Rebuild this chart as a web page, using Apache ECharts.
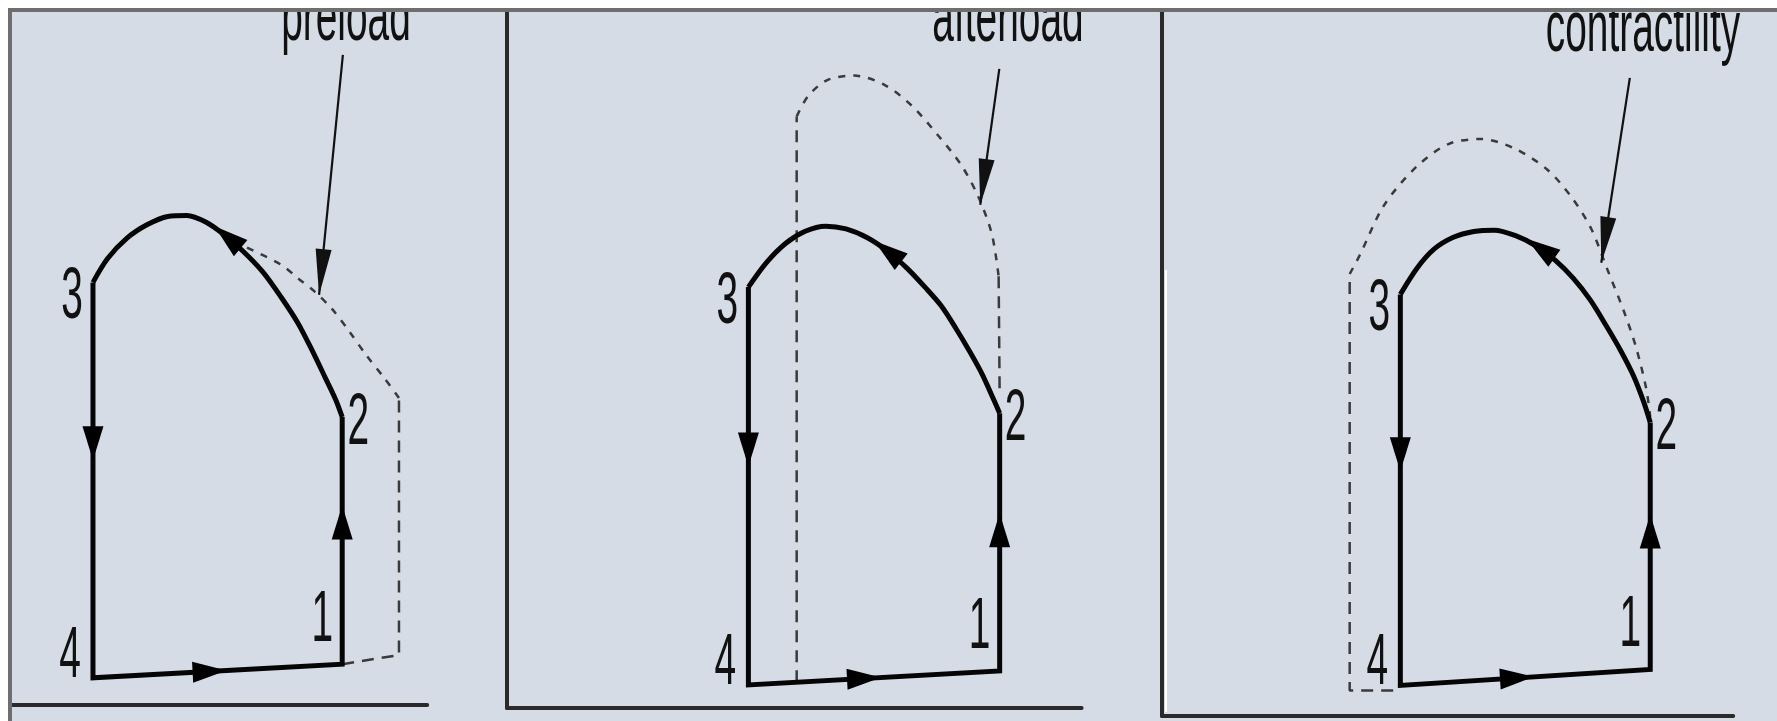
<!DOCTYPE html>
<html>
<head>
<meta charset="utf-8">
<script src="https://cdn.jsdelivr.net/npm/echarts@6/dist/echarts.min.js"></script>
<style>
html,body{margin:0;padding:0;background:#fff;}
#chart{width:1777px;height:721px;}
</style>
</head>
<body>
<div id="chart"></div>
<script>
/* pressure-volume loops: x = volume, y = pressure, same px per unit on both */
const S = 3.4;

const pointLabels = ['1', '2', '3', '4'];
const pointerLabels = ['preload', 'afterload', 'contractility'];

/* panel 1 - preload */
const preCorners = [[98, 12], [98, 84.7], [24.7, 124.3], [24.7, 8]];   // points 1,2,3,4
const preArc = [[96, 90], [93, 96.3], [89.3, 104], [85, 112.3], [80, 120], [74.7, 127.3], [69, 133.3], [63.3, 138.3], [58, 142], [52.3, 144], [46.7, 143.7], [40.7, 141.3], [34.7, 137.3], [29, 131.3]];
const preNewEdges = [[[98, 12], [114.7, 14.7], [114.7, 90.3]]];
const preNewArc = [[114.7, 90.3], [110.5, 96], [105, 103], [100, 110], [95, 116.5], [90, 121.5], [85, 125.5], [80, 129.5], [68, 135.5]];
const preArrows = [[24.7, 77, -90], [98, 53.7, 90], [59, 9.9, 3], [64.3, 137.6, 140]];   // x, y, heading
const prePointer = [[98.2, 191.2], [91.2, 120.6]];

/* panel 2 - afterload */
const aftCorners = [[144.9, 10.9], [144.9, 86.7], [71, 123.8], [71, 6.8]];
const aftArc = [[142.7, 91.7], [139.7, 98.3], [136, 105], [132, 111.7], [127.7, 118.3], [123, 123.7], [117.7, 129.3], [112, 134.3], [106, 138.3], [99.7, 140.9], [93.7, 141.7], [87.7, 140.2], [82, 136.7], [76.3, 131]];
const aftNewEdges = [[[85.2, 7.6], [85.2, 174]], [[144.6, 127], [144.9, 92]]];
const aftNewArc = [[85.2, 174], [88.5, 179.9], [94.2, 184.7], [102.1, 186], [111, 183.3], [119, 177.2], [126.8, 168.4], [133.6, 159.7], [138.7, 150.2], [142.6, 139.4], [144.6, 127]];
const aftArrows = [[71, 76, -90], [144.9, 52.3, 90], [105, 8.7, 3], [112, 134.3, 142]];
const aftPointer = [[144.8, 188], [139.2, 148]];

/* panel 3 - contractility */
const conCorners = [[143.6, 13.7], [143.6, 86.3], [70.1, 124], [70.1, 9]];
const conArc = [[141.7, 92.3], [138.7, 100], [135, 107.3], [130.7, 114.7], [126, 122.3], [121, 128.7], [115.7, 134], [110, 138.3], [104, 141.3], [97.7, 142.9], [91.7, 142.5], [85.7, 140.8], [80, 137.3], [75, 131.7]];
const conNewEdges = [[[68, 7.5], [55.2, 7.5], [55.2, 130]]];
const conNewArc = [[55.2, 130], [58.1, 135.4], [65.3, 150.2], [74.9, 161.6], [84.4, 168.3], [94, 169.7], [103.5, 167], [113.1, 160.9], [120.3, 152.8], [126.2, 143.4], [131, 131.3], [135.8, 119.2], [139.4, 108.5], [142.4, 96.4], [143.6, 88]];
const conArrows = [[70.1, 77, -90], [143.6, 54.3, 90], [104.4, 11.2, 3.7], [111.3, 137.5, 145]];
const conPointer = [[137.6, 187.7], [129.2, 133.3]];

const panels = [
    {corners: preCorners, arc: preArc, newEdges: preNewEdges, newArc: preNewArc, arrows: preArrows, pointer: prePointer},
    {corners: aftCorners, arc: aftArc, newEdges: aftNewEdges, newArc: aftNewArc, arrows: aftArrows, pointer: aftPointer},
    {corners: conCorners, arc: conArc, newEdges: conNewEdges, newArc: conNewArc, arrows: conArrows, pointer: conPointer}
];

/* layout of each panel: axis origin in px, axis extents in units */
const layout = [
    {left: 9, origin: 705, xMax: 123, yMax: 205, textX: 346, textY: 20},
    {left: 507, origin: 708, xMax: 169, yMax: 205, textX: 1008, textY: 21},
    {left: 1162, origin: 716, xMax: 168, yMax: 207, textX: 1643, textY: 31}
];
const labelOffset = [[-20, -43], [16, 7], [-21, 16], [-23, -21]];

const FONT = '72px "Liberation Sans", Arial, sans-serif';
const SQUEEZE = 0.54;

let chart = echarts.init(document.getElementById('chart'), null, {renderer: 'canvas'});

function axis(i, show) {
    return {
        gridIndex: i, type: 'value', min: 0,
        axisLine: {show: show, onZero: false, lineStyle: {color: '#2a2a2a', width: 4}},
        axisTick: {show: false}, axisLabel: {show: false}, splitLine: {show: false}
    };
}

let series = [];
panels.forEach(function (p, i) {
    let c = p.corners;
    let base = {type: 'line', xAxisIndex: i, yAxisIndex: i, symbol: 'none', silent: true, animation: false};
    // solid loop: 3 -> 4 -> 1 -> 2 straight, 2 -> 3 curved
    series.push(Object.assign({}, base, {
        data: [c[2], c[3], c[0], c[1]],
        lineStyle: {color: '#050505', width: 5, join: 'miter'}, z: 4
    }));
    series.push(Object.assign({}, base, {
        data: [c[1]].concat(p.arc, [c[2]]), smooth: 0.3,
        lineStyle: {color: '#050505', width: 5}, z: 4
    }));
    // shifted loop, dashed
    p.newEdges.forEach(function (e) {
        series.push(Object.assign({}, base, {
            data: e, lineStyle: {color: '#3a3a3a', width: 2.5, type: [12, 8]}, z: 3
        }));
    });
    series.push(Object.assign({}, base, {
        data: p.newArc, smooth: 0.3,
        lineStyle: {color: '#3a3a3a', width: 2.5, type: [7, 8]}, z: 3
    }));
    // direction arrows on the loop
    series.push({
        type: 'scatter', xAxisIndex: i, yAxisIndex: i, silent: true, animation: false,
        symbol: 'triangle', symbolSize: [21, 34], itemStyle: {color: '#000', opacity: 1}, z: 5,
        data: p.arrows.map(a => ({value: [a[0], a[1]], symbolRotate: a[2] - 90}))
    });
    // pointer from the caption to the dashed loop
    let d0 = p.pointer[0], d1 = p.pointer[1];
    let ang = Math.atan2(d1[1] - d0[1], d1[0] - d0[0]);
    let head = 46;
    series.push(Object.assign({}, base, {
        data: p.pointer, lineStyle: {color: '#111', width: 2.2}, z: 5
    }));
    series.push({
        type: 'scatter', xAxisIndex: i, yAxisIndex: i, silent: true, animation: false,
        symbol: 'triangle', symbolSize: [16, head], itemStyle: {color: '#111', opacity: 1}, z: 5,
        data: [{
            value: d1,
            symbolRotate: ang * 180 / Math.PI - 90,
            symbolOffset: [-head / 2 * Math.cos(ang), head / 2 * Math.sin(ang)]
        }]
    });
});

let option = {
    backgroundColor: '#d5dce6',
    animation: false,
    grid: layout.map(l => ({
        left: l.left, top: l.origin - l.yMax * S, width: l.xMax * S, height: l.yMax * S
    })),
    xAxis: layout.map((l, i) => Object.assign(axis(i, true), {max: l.xMax})),
    yAxis: layout.map((l, i) => Object.assign(axis(i, i > 0), {max: l.yMax})),
    series: series
};
chart.setOption(option);

/* texts and frame */
let graphic = [];
panels.forEach(function (p, i) {
    p.corners.forEach(function (c, k) {
        let px = chart.convertToPixel({gridIndex: i}, c);
        graphic.push({
            type: 'text', x: px[0] + labelOffset[k][0], y: px[1] + labelOffset[k][1],
            scaleX: SQUEEZE, z: 50,
            style: {text: pointLabels[k], font: FONT, fill: '#111', align: 'center', verticalAlign: 'middle'}
        });
    });
    graphic.push({
        type: 'text', x: layout[i].textX, y: layout[i].textY, scaleX: SQUEEZE, z: 50,
        style: {text: pointerLabels[i], font: FONT, fill: '#111', align: 'center', verticalAlign: 'middle'}
    });
});
graphic.push(
    {type: 'rect', z: 100, shape: {x: 0, y: 0, width: 1777, height: 8}, style: {fill: '#fff'}},
    {type: 'rect', z: 100, shape: {x: 0, y: 0, width: 8, height: 721}, style: {fill: '#fff'}},
    {type: 'rect', z: 101, shape: {x: 8, y: 8, width: 1769, height: 4}, style: {fill: '#6e6e6e'}},
    {type: 'rect', z: 101, shape: {x: 8, y: 8, width: 4, height: 713}, style: {fill: '#6e6e6e'}},
    {type: 'rect', z: 101, shape: {x: layout[2].left + 3, y: 270, width: 2, height: 442}, style: {fill: '#fff'}}
);
chart.setOption({graphic: graphic});
</script>
</body>
</html>
